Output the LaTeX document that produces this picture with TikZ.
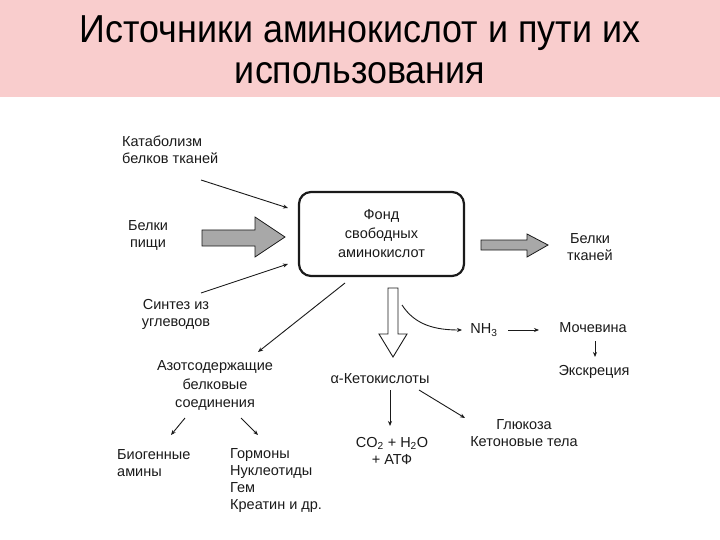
\documentclass[tikz,border=0pt]{standalone}
\usepackage{graphicx}
\usepackage{fontspec}
\setmainfont{Liberation Sans}
\usetikzlibrary{arrows.meta}
\definecolor{titlepink}{HTML}{F9CDCD}
\definecolor{arrowgray}{HTML}{A8A8A8}
\definecolor{ink}{HTML}{1A1A1A}
\begin{document}
\begin{tikzpicture}[x=1pt,y=-1pt,
  lbl/.style={font=\fontsize{14.5}{17}\selectfont, text=ink, inner sep=0pt, align=center},
  lbll/.style={lbl, align=left, anchor=west},
  titlebox/.style={font=\fontsize{39}{41}\selectfont, inner sep=0pt, anchor=base},
  thin arrow/.style={draw=ink, line width=0.9pt, -{Stealth[length=5pt,width=4pt]}},
  fat/.style={draw=ink, line width=0.8pt, fill=arrowgray},
  hollow/.style={draw=ink, line width=0.9pt, fill=white}]
\useasboundingbox (0,0) rectangle (720,540);
\fill[white] (0,0) rectangle (720,540);
\fill[titlepink] (0,0) rectangle (720,97);
\node[titlebox] (title1) at (360,43) {\scalebox{0.92}[1]{Источники аминокислот и пути их}};
\node[titlebox] (title2) at (360,84) {\scalebox{0.92}[1]{использования}};

% pool box
\node[draw=ink, line width=2.2pt, rounded corners=12pt, minimum width=165pt, minimum height=84pt,
  lbl, font=\fontsize{14.5}{19}\selectfont] (pool) at (381.5,234) {Фонд\\свободных\\аминокислот};

% sources
\node[lbll] (catab) at (122,150) {Катаболизм\\белков тканей};
\node[lbl] (food) at (148,235.5) {Белки\\пищи};
\node[lbl] (synth) at (176,314) {Синтез из\\углеводов};
\coordinate (catabS) at (201,180);
\coordinate (catabE) at (288,208);
\coordinate (synS) at (201,293);
\coordinate (synE) at (288,264);
\draw[thin arrow] (catabS) -- (catabE);
\draw[thin arrow] (synS) -- (synE);
\draw[fat] (202,230) -- (255,230) -- (255,217) -- (285,237) -- (255,257) -- (255,246) -- (202,246) -- cycle;

% to tissue proteins
\node[lbl] (tissue) at (590,247) {Белки\\тканей};
\draw[fat] (481,240) -- (527,240) -- (527,234) -- (548,245) -- (527,257) -- (527,250) -- (481,250) -- cycle;

% nitrogen compounds
\node[lbl, font=\fontsize{14.5}{18.5}\selectfont] (nitro) at (215,385.5) {Азотсодержащие\\белковые\\соединения};
\coordinate (poolBL) at (345,283);
\coordinate (nitroE) at (258,352);
\draw[thin arrow] (poolBL) -- (nitroE);
\node[lbll] (amines) at (117,463.5) {Биогенные\\амины};
\node[lbll] (horm) at (230,480.5) {Гормоны\\Нуклеотиды\\Гем\\Креатин и др.};
\draw[thin arrow] (185,418) -- (171,435);
\draw[thin arrow] (241,418) -- (258,435);

% hollow arrow down
\draw[hollow] (388,288) -- (398,288) -- (398,334) -- (407,334) -- (393,357) -- (379,334) -- (388,334) -- cycle;

% ketoacids
\node[lbl] (keto) at (380,379) {α-Кетокислоты};
\node[lbl] (co2) at (392,450.5) {CO\textsubscript{2} + H\textsubscript{2}O\\+ АТФ};
\node[lbl] (gluc) at (524,433) {Глюкоза\\Кетоновые тела};
\draw[thin arrow] (390,390) -- (390,426);
\draw[thin arrow] (419,390) -- (465,418);

% ammonia
\node[lbl] (nh3) at (484,330) {NH\textsubscript{3}};
\node[lbl] (urea) at (593,328) {Мочевина};
\node[lbl] (excr) at (594,372) {Экскреция};
\coordinate (nh3L) at (462,330);
\coordinate (nh3R) at (508,330);
\coordinate (ureaL) at (539,330);
\draw[thin arrow] (402,305) .. controls (415,325) and (435,330) .. (nh3L);
\draw[thin arrow] (nh3R) -- (ureaL);
\draw[thin arrow] (595,341) -- (595,357);
\end{tikzpicture}
\end{document}
